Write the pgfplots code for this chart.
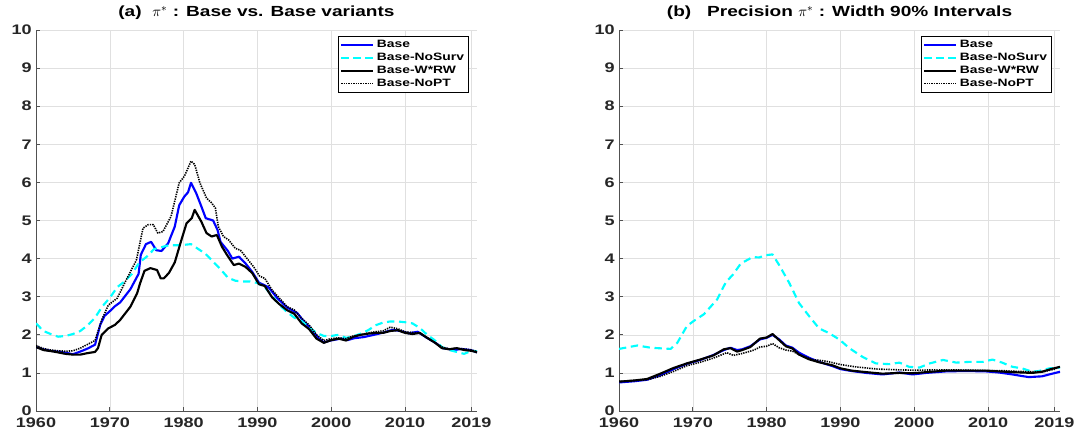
\documentclass[border=0pt]{standalone}
\usepackage{fontspec}
\setmainfont{Liberation Sans}[FakeStretch=1.3]
\usepackage{pgfplots}
\pgfplotsset{compat=1.18}
\definecolor{mcyan}{RGB}{0,255,255}
\definecolor{mblue}{RGB}{0,0,255}
\definecolor{axgray}{RGB}{38,38,38}
\pgfplotsset{
  mystyle/.style={
    scale only axis,
    width=330.75pt, height=285.75pt,
    xmin=1960, xmax=2019.75, ymin=0, ymax=10,
    xtick={1960,1970,1980,1990,2000,2010,2019},
    xticklabels={1960,1970,1980,1990,2000,2010,2019},
    ytick={0,1,...,10},
    axis x line*=bottom, axis y line*=left,
    axis line style={draw=axgray!80, line width=0.5pt},
    tick style={draw=axgray!80, line width=0.5pt},
    tick align=inside, major tick length=3pt,
    grid=major, grid style={draw=black!12, line width=0.4pt},
    ticklabel style={font=\bfseries\fontsize{10.4}{11}\selectfont, text=axgray},
    /pgf/number format/assume math mode=true,
    /pgf/number format/1000 sep={},
    xticklabel style={yshift=-4.6pt, inner sep=0.3pt},
    yticklabel style={xshift=-1.5pt, inner sep=1.5pt},
    title style={font=\bfseries\fontsize{11}{12}\selectfont, anchor=base, at={(0.5,1)}, yshift=4pt},
    legend style={at={(1,1)}, anchor=north east, xshift=-6pt, yshift=-4.5pt,
      font=\bfseries\fontsize{8}{9}\selectfont, draw=black, line width=0.5pt,
      inner xsep=1.5pt, inner ysep=0.8pt, row sep=-1.3pt, cells={anchor=west}},
    legend image code/.code={\draw[#1] plot coordinates {(0pt,0pt) (12pt,0pt) (24pt,0pt)};},
    every axis plot/.append style={line join=round},
  },
  sbase/.style={mblue, line width=1.6pt},
  snosurv/.style={mcyan, line width=1.6pt, dash pattern=on 5.5pt off 3.5pt},
  swrw/.style={black, line width=1.6pt},
  snopt/.style={black, line width=1.2pt, dash pattern=on 1pt off 0.8pt},
}
\begin{document}
\begin{tikzpicture}
\path[use as bounding box] (0,0) rectangle (805.5pt,322.5pt);
% ---------------- Panel (a)
\begin{axis}[mystyle, at={(27pt,14.25pt)}, anchor=south west,
  title={(a)\ \ $\pi^{*}$ : Base vs. Base variants}]
\addplot[sbase] coordinates {
(1960,1.68)(1961,1.62)(1962,1.58)(1963,1.56)(1964,1.53)(1965,1.49)(1966,1.56)(1967,1.64)(1968,1.74)
(1968.7,2.26)(1969.3,2.5)(1970,2.62)(1970.7,2.75)(1971.4,2.85)(1972.2,3.05)(1972.8,3.2)(1973.9,3.6)
(1974.2,4.1)(1974.9,4.38)(1975.6,4.44)(1976.3,4.22)(1977,4.2)(1977.9,4.4)(1978.8,4.84)(1979.4,5.4)
(1980.1,5.63)(1980.6,5.74)(1981,5.99)(1981.7,5.72)(1982.4,5.37)(1983,5.06)(1984,5.0)(1984.6,4.75)
(1985,4.44)(1986,4.2)(1986.6,4.0)(1987.5,4.05)(1988.4,3.87)(1989.3,3.65)(1990.2,3.37)(1991.5,3.25)
(1992.7,2.96)(1994,2.72)(1995.4,2.57)(1996.3,2.35)(1997.2,2.17)(1998.3,1.91)(1999,1.8)(1999.9,1.85)
(2001.3,1.9)(2002.2,1.86)(2003.1,1.91)(2004.4,1.94)(2005.8,2.0)(2007.1,2.06)(2008.3,2.13)(2009.4,2.1)
(2010.5,2.04)(2011.7,2.08)(2012.8,1.94)(2014.2,1.78)(2015.1,1.65)(2016.7,1.6)(2017.6,1.63)(2018.9,1.6)(2019.75,1.54)
};
\addlegendentry{Base}
\addplot[snosurv] coordinates {
(1960,2.3)(1961,2.1)(1962,2.02)(1963,1.95)(1964,1.97)(1965,2.02)(1966,2.1)(1967,2.25)(1968,2.45)
(1969,2.75)(1970,2.97)(1971,3.25)(1972,3.4)(1973,3.6)(1974,3.9)(1975,4.05)(1976,4.25)(1977,4.3)
(1978,4.35)(1979,4.35)(1980,4.36)(1981,4.38)(1982,4.25)(1983,4.12)(1984,3.92)(1985,3.72)(1986,3.5)
(1987,3.42)(1988,3.4)(1989,3.4)(1990,3.36)(1991,3.25)(1992,3.02)(1993,2.78)(1994,2.6)(1995,2.45)
(1996,2.36)(1997,2.2)(1998,2.05)(1999,1.97)(2000,1.97)(2001,2.0)(2002,1.92)(2003,1.96)(2004,2.03)
(2005,2.12)(2006,2.25)(2007,2.32)(2008,2.35)(2009,2.35)(2010,2.33)(2011,2.3)(2012,2.18)(2013,2.0)
(2014,1.86)(2015,1.68)(2016,1.6)(2017,1.55)(2018,1.5)(2019,1.58)(2019.75,1.57)
};
\addlegendentry{Base-NoSurv}
\addplot[swrw] coordinates {
(1960,1.68)(1961,1.6)(1962.4,1.56)(1964,1.5)(1965,1.48)(1966,1.48)(1967,1.52)(1968,1.55)(1968.4,1.65)
(1968.9,2.0)(1969.8,2.17)(1970.7,2.26)(1971.4,2.39)(1972.8,2.74)(1973.7,3.09)(1974.1,3.35)(1974.7,3.68)
(1975.5,3.75)(1976.4,3.7)(1976.9,3.48)(1977.3,3.48)(1978,3.62)(1978.8,3.9)(1979.7,4.49)(1980.4,4.93)
(1981.1,5.06)(1981.5,5.28)(1982.4,4.97)(1983.1,4.67)(1983.8,4.58)(1984.5,4.62)(1985.2,4.31)(1985.9,4.09)
(1986.8,3.83)(1987.5,3.87)(1988.4,3.78)(1989.3,3.62)(1990.2,3.33)(1991,3.28)(1992,2.98)(1993,2.8)
(1994,2.65)(1995,2.55)(1996,2.3)(1997,2.15)(1998,1.9)(1999,1.79)(2000,1.86)(2001,1.9)(2002,1.85)
(2003,1.95)(2004,2.0)(2005,2.03)(2006,2.05)(2007,2.05)(2008,2.1)(2009,2.12)(2010,2.05)(2011,2.02)
(2012,2.05)(2013,1.92)(2014,1.8)(2015,1.65)(2016,1.62)(2017,1.65)(2018,1.6)(2019,1.58)(2019.75,1.54)
};
\addlegendentry{Base-W*RW}
\addplot[snopt] coordinates {
(1960,1.72)(1961,1.64)(1962,1.6)(1963,1.58)(1964,1.57)(1965,1.58)(1966,1.65)(1967,1.75)(1968,1.85)
(1968.9,2.39)(1969.8,2.78)(1971,2.96)(1972.2,3.43)(1973.6,3.96)(1974.5,4.8)(1975.2,4.89)(1975.9,4.89)
(1976.5,4.67)(1977.2,4.71)(1978.3,5.11)(1979.4,5.99)(1980.1,6.16)(1980.6,6.38)(1981,6.56)(1981.5,6.47)
(1982.2,5.99)(1983.1,5.59)(1983.8,5.46)(1984.3,5.33)(1984.7,4.84)(1985.4,4.58)(1986.1,4.49)(1987,4.27)
(1987.7,4.22)(1988.6,4.0)(1989.5,3.78)(1990.3,3.54)(1991,3.48)(1992,3.17)(1993,2.96)(1994,2.74)
(1995,2.65)(1996,2.43)(1997,2.26)(1998,2.0)(1999,1.85)(2000,1.9)(2001,1.92)(2002,1.9)(2003,1.97)
(2004,2.0)(2005,2.05)(2006,2.08)(2007,2.1)(2008,2.2)(2009,2.16)(2010,2.08)(2011,2.06)(2012,2.04)
(2013,1.92)(2014,1.8)(2015,1.68)(2016,1.63)(2017,1.65)(2018,1.63)(2019,1.6)(2019.75,1.56)
};
\addlegendentry{Base-NoPT}
\end{axis}
% ---------------- Panel (b)
\begin{axis}[mystyle, at={(464.25pt,14.25pt)}, anchor=south west,
  title={(b)\ \ \ Precision $\pi^{*}$ : Width 90\% Intervals}]
\addplot[sbase] coordinates {
(1960,0.75)(1962,0.78)(1963.8,0.82)(1965.6,0.94)(1967.4,1.1)(1969.2,1.24)(1971,1.34)(1972.8,1.47)
(1974.2,1.6)(1975.1,1.66)(1976,1.6)(1976.7,1.62)(1977.8,1.7)(1979.1,1.88)(1980,1.92)(1980.8,2.0)
(1981.7,1.88)(1982.6,1.72)(1983.5,1.66)(1984.4,1.53)(1985.7,1.4)(1987.1,1.29)(1988.9,1.18)(1990,1.1)
(1991.5,1.05)(1993.5,1.0)(1995.7,0.96)(1998,1.01)(1999.8,0.96)(2001.6,1.0)(2004.3,1.04)(2007,1.05)
(2009.7,1.04)(2011.5,1.01)(2013.3,0.96)(2015.5,0.89)(2017.3,0.91)(2018.7,0.98)(2019.75,1.03)
};
\addlegendentry{Base}
\addplot[snosurv] coordinates {
(1960,1.63)(1962.5,1.72)(1964.3,1.66)(1967,1.63)(1967.9,1.79)(1969.2,2.23)(1970.1,2.36)(1971.5,2.54)
(1973.3,2.93)(1974.5,3.39)(1975.4,3.57)(1976.5,3.87)(1978.1,4.04)(1979,4.03)(1979.9,4.09)(1980.8,4.11)
(1981.7,3.83)(1983.1,3.35)(1984.4,2.83)(1985.8,2.48)(1987.1,2.17)(1988.5,2.04)(1989.9,1.87)(1991.2,1.65)
(1993,1.42)(1994.8,1.25)(1996.6,1.23)(1998,1.27)(1999.3,1.16)(2000.7,1.14)(2002.1,1.25)(2003.9,1.34)
(2005.7,1.27)(2007.5,1.29)(2009.3,1.29)(2010.6,1.35)(2011.9,1.27)(2013.3,1.16)(2014.6,1.12)(2016,1.03)
(2016.9,1.05)(2018.3,1.12)(2019.75,1.14)
};
\addlegendentry{Base-NoSurv}
\addplot[swrw] coordinates {
(1960,0.77)(1962,0.8)(1963.8,0.84)(1965.6,0.98)(1967.4,1.13)(1969.2,1.25)(1971,1.35)(1972.8,1.46)
(1974.2,1.62)(1975.1,1.65)(1976,1.56)(1976.7,1.6)(1977.8,1.68)(1979.1,1.9)(1980,1.93)(1980.8,2.02)
(1981.7,1.86)(1982.6,1.7)(1983.5,1.64)(1984.4,1.48)(1985.7,1.36)(1987.1,1.28)(1988.9,1.2)(1990,1.12)
(1991.5,1.06)(1993.5,1.02)(1995.7,0.98)(1998,1.0)(1999.8,0.99)(2001.6,1.02)(2004.3,1.06)(2007,1.06)
(2009.7,1.06)(2011.5,1.04)(2013.3,1.02)(2016,1.0)(2017.3,1.03)(2018.7,1.11)(2019.75,1.16)
};
\addlegendentry{Base-W*RW}
\addplot[snopt] coordinates {
(1960,0.78)(1963.8,0.82)(1965.6,0.91)(1967.4,1.04)(1969.2,1.19)(1971,1.28)(1972.8,1.39)(1974.6,1.53)
(1975.5,1.46)(1976.7,1.51)(1978.3,1.6)(1979.1,1.68)(1980,1.7)(1980.8,1.77)(1981.7,1.66)(1982.6,1.6)
(1983.5,1.57)(1984.4,1.48)(1986.2,1.35)(1988,1.31)(1990,1.22)(1992,1.16)(1995,1.1)(1998,1.08)
(2000,1.07)(2003,1.08)(2005,1.08)(2008,1.07)(2010,1.06)(2012,1.06)(2014,1.04)(2016,1.03)(2017.5,1.03)
(2019,1.1)(2019.75,1.17)
};
\addlegendentry{Base-NoPT}
\end{axis}
\end{tikzpicture}
\end{document}
